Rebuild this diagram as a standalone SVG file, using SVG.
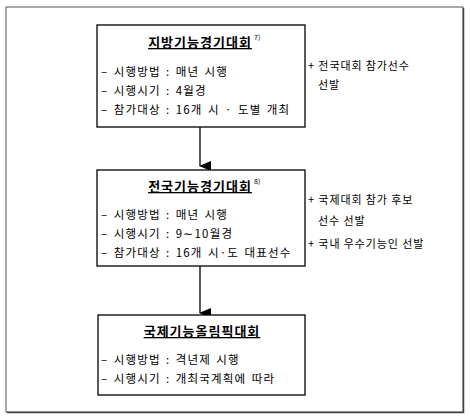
<svg xmlns="http://www.w3.org/2000/svg" width="470" height="417" viewBox="0 0 470 417">
<style>
.frame{fill:#fff;stroke:#555;stroke-width:1}
.box{fill:#fff;stroke:#000;stroke-width:1.3}
.t{font-family:"Noto Sans CJK KR","Noto Sans",sans-serif;fill:#000}
.title{font-size:13px;font-weight:bold;text-decoration:underline;letter-spacing:1px}
.sup{font-size:7px}
.item{font-size:11.5px;letter-spacing:1.2px;word-spacing:1.5px}
.note{font-size:11px;letter-spacing:0.9px}
.conn{stroke:#000;stroke-width:1.3;fill:none}
</style>
<defs>
<marker id="ah" markerWidth="10" markerHeight="12" refX="5" refY="11" orient="auto" markerUnits="userSpaceOnUse" viewBox="0 0 10 12">
<path d="M0,0 L10,0 L5,12 Z" fill="#000"/>
</marker>
</defs>
<rect width="470" height="417" fill="#fff"/>
<rect class="frame" x="6" y="7" width="457" height="405"/>
<path d="M463.5,8 V412.5 H7" stroke="#444" stroke-width="1.5" fill="none"/>
<g id="connectors">
<path class="conn" d="M200,127 V166" marker-end="url(#ah)"/>
<path class="conn" d="M200,266 V313" marker-end="url(#ah)"/>
</g>
<g id="node-regional">
<rect class="box" x="97" y="25" width="208" height="102"/>
<text class="t title" x="200" y="47" text-anchor="middle">지방기능경기대회</text>
<text class="t sup" x="254" y="40">7)</text>
<text class="t item" x="101" y="76">– 시행방법 : 매년 시행</text>
<text class="t item" x="101" y="95">– 시행시기 : 4월경</text>
<text class="t item" x="101" y="114">– 참가대상 : 16개 시 · 도별 개최</text>
</g>
<g id="note-regional">
<text class="t note" x="308" y="70">+ 전국대회 참가선수</text>
<text class="t note" x="318" y="89">선발</text>
</g>
<g id="node-national">
<rect class="box" x="97" y="170" width="208" height="96"/>
<text class="t title" x="200" y="191" text-anchor="middle">전국기능경기대회</text>
<text class="t sup" x="254" y="184">8)</text>
<text class="t item" x="101" y="219">– 시행방법 : 매년 시행</text>
<text class="t item" x="101" y="238">– 시행시기 : 9∼10월경</text>
<text class="t item" x="101" y="257">– 참가대상 : 16개 시·도 대표선수</text>
</g>
<g id="note-national">
<text class="t note" x="308" y="204">+ 국제대회 참가 후보</text>
<text class="t note" x="318" y="225">선수 선발</text>
<text class="t note" x="308" y="248">+ 국내 우수기능인 선발</text>
</g>
<g id="node-international">
<rect class="box" x="98" y="315" width="207" height="80"/>
<text class="t title" x="202" y="336" text-anchor="middle">국제기능올림픽대회</text>
<text class="t item" x="101" y="364">– 시행방법 : 격년제 시행</text>
<text class="t item" x="101" y="383">– 시행시기 : 개최국계획에 따라</text>
</g>
</svg>
